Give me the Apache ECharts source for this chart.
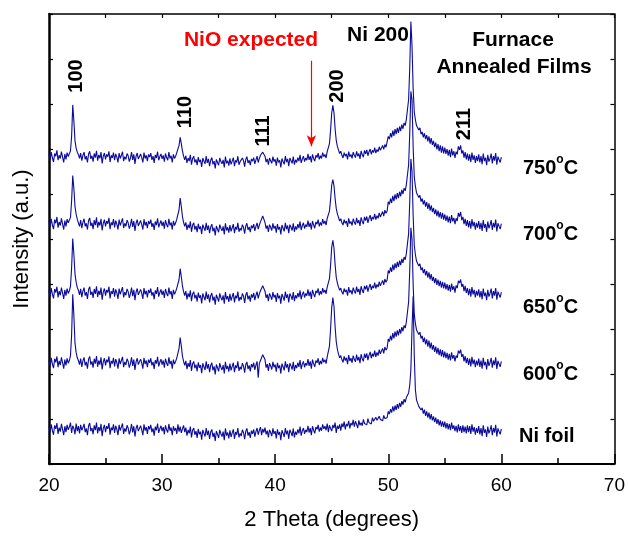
<!DOCTYPE html>
<html>
<head>
<meta charset="utf-8">
<script src="https://cdn.jsdelivr.net/npm/echarts@6/dist/echarts.min.js"></script>
<style>
html,body{margin:0;padding:0;background:#fff;}
#chart{width:628px;height:536px;}
</style>
</head>
<body>
<div id="chart"></div>
<script>
// Scan grid: 2-theta from 20 to 60 degrees, step 0.1 (one row below = 1 degree)
const scanStart = 20;
const scanStep = 0.1;

const seriesNames = ['750°C', '700°C', '650°C', '600°C', 'Ni foil'];

const int750 = [
  688, 676, 693, 680, 671, 690, 684, 697, 675, 686,
  679, 694, 682, 670, 689, 677, 692, 683, 687, 696,
  728, 798, 762, 718, 702, 693, 688, 679, 691, 674,
  686, 693, 677, 684, 670, 689, 695, 678, 685, 672,
  690, 681, 696, 674, 687, 679, 693, 668, 684, 691,
  677, 688, 683, 695, 671, 686, 680, 692, 675, 689,
  682, 670, 691, 679, 686, 694, 673, 683, 677, 690,
  685, 672, 680, 693, 676, 688, 667, 684, 691, 678,
  674, 689, 681, 670, 692, 679, 686, 673, 688, 682,
  691, 676, 684, 669, 687, 680, 694, 675, 683, 689,
  678, 686, 672, 690, 681, 675, 693, 679, 685, 670,
  688, 679, 684, 692, 694, 708, 726, 712, 696, 684,
  676, 685, 669, 680, 673, 687, 665, 679, 684, 670,
  677, 664, 682, 671, 676, 660, 680, 673, 667, 684,
  669, 678, 662, 675, 681, 666, 673, 657, 677, 670,
  664, 680, 672, 667, 676, 659, 683, 668, 674, 663,
  679, 666, 673, 681, 662, 675, 670, 684, 665, 672,
  668, 680, 674, 661, 677, 683, 669, 675, 664, 678,
  673, 681, 667, 676, 684, 670, 679, 686, 682, 693,
  690, 684, 671, 678, 665, 680, 674, 668, 683, 672,
  677, 663, 681, 670, 675, 659, 679, 672, 666, 684,
  671, 678, 662, 680, 674, 668, 683, 665, 676, 670,
  681, 673, 687, 669, 678, 684, 672, 680, 675, 689,
  676, 684, 670, 688, 679, 673, 686, 681, 691, 677,
  685, 679, 692, 683, 688, 680, 694, 697, 712, 742,
  780, 797, 781, 745, 719, 706, 698, 690, 695, 686,
  680, 692, 684, 689, 677, 694, 683, 688, 679, 693,
  686, 681, 695, 684, 690, 678, 696, 687, 682, 697,
  689, 698, 685, 694, 700, 688, 697, 692, 703, 691,
  699, 694, 705, 697, 702, 708, 699, 710, 704, 707,
  728, 722, 735, 726, 741, 729, 744, 733, 747, 736,
  750, 740, 754, 745, 758, 752, 766, 770, 810, 880,
  983, 930, 835, 782, 765, 752, 756, 742, 747, 733,
  738, 726, 735, 722, 731, 717, 728, 712, 724, 709,
  718, 704, 714, 699, 711, 695, 708, 692, 706, 690,
  703, 689, 700, 685, 698, 682, 701, 686, 695, 680,
  694, 688, 706, 698, 708, 690, 697, 681, 693, 677,
  690, 674, 688, 671, 692, 676, 686, 669, 684, 673,
  688, 670, 684, 666, 690, 673, 681, 664, 687, 672,
  679, 690, 668, 684, 674, 691, 665, 683, 676, 670,
  682
];

const int700 = [
  540, 527, 545, 531, 522, 543, 535, 549, 525, 538,
  530, 546, 533, 521, 541, 528, 544, 536, 540, 548,
  585, 641, 612, 572, 555, 544, 536, 528, 542, 524,
  537, 545, 528, 535, 521, 541, 547, 529, 536, 522,
  542, 531, 548, 525, 538, 530, 545, 519, 535, 543,
  528, 540, 534, 547, 522, 537, 531, 544, 526, 541,
  533, 521, 543, 530, 538, 546, 524, 535, 528, 542,
  536, 523, 531, 545, 527, 540, 518, 535, 543, 529,
  525, 541, 532, 521, 544, 530, 538, 524, 540, 533,
  543, 527, 535, 520, 539, 531, 546, 526, 534, 541,
  529, 538, 523, 542, 532, 526, 545, 530, 537, 521,
  540, 530, 536, 544, 548, 565, 591, 572, 550, 537,
  528, 537, 520, 532, 524, 539, 516, 531, 536, 521,
  529, 515, 534, 522, 528, 511, 532, 525, 518, 536,
  520, 530, 513, 527, 533, 517, 525, 508, 529, 522,
  515, 532, 524, 518, 528, 510, 535, 519, 526, 514,
  531, 517, 525, 533, 513, 527, 521, 536, 516, 524,
  519, 532, 526, 512, 529, 535, 520, 527, 515, 530,
  524, 533, 518, 528, 536, 522, 531, 538, 540, 551,
  548, 537, 523, 530, 516, 532, 526, 519, 535, 523,
  529, 514, 533, 521, 527, 510, 531, 524, 517, 536,
  522, 530, 513, 532, 526, 519, 535, 516, 528, 521,
  533, 524, 539, 520, 530, 536, 523, 532, 527, 541,
  527, 536, 521, 540, 531, 524, 538, 533, 543, 528,
  537, 530, 544, 534, 540, 531, 546, 548, 562, 588,
  620, 632, 618, 590, 568, 556, 548, 540, 545, 536,
  531, 543, 535, 540, 527, 546, 534, 539, 530, 545,
  537, 532, 547, 535, 542, 529, 548, 539, 533, 549,
  541, 550, 536, 546, 553, 540, 549, 544, 556, 543,
  552, 546, 558, 549, 555, 561, 551, 564, 557, 562,
  583, 577, 590, 580, 596, 584, 599, 588, 602, 591,
  605, 595, 609, 600, 613, 607, 621, 625, 665, 735,
  828, 810, 705, 638, 617, 603, 606, 592, 597, 583,
  590, 577, 586, 572, 582, 567, 579, 563, 575, 560,
  569, 555, 566, 551, 563, 548, 560, 545, 558, 543,
  555, 540, 552, 537, 550, 535, 553, 539, 547, 533,
  546, 540, 558, 550, 560, 542, 549, 533, 545, 529,
  542, 526, 540, 523, 544, 528, 538, 521, 536, 525,
  540, 522, 536, 518, 542, 525, 533, 516, 539, 524,
  531, 542, 520, 536, 526, 543, 517, 535, 528, 522,
  534
];

const int650 = [
  386, 372, 391, 377, 368, 389, 381, 394, 370, 384,
  375, 392, 380, 367, 387, 374, 390, 379, 385, 395,
  436, 501, 466, 422, 404, 392, 386, 376, 389, 371,
  384, 392, 374, 382, 367, 388, 394, 376, 383, 369,
  389, 378, 395, 371, 385, 376, 392, 365, 382, 390,
  374, 387, 381, 394, 368, 384, 378, 391, 372, 388,
  380, 367, 390, 377, 385, 393, 370, 382, 375, 389,
  383, 369, 378, 392, 373, 387, 364, 382, 390, 376,
  372, 388, 379, 367, 391, 377, 385, 370, 387, 380,
  390, 374, 382, 366, 386, 378, 393, 372, 381, 388,
  376, 385, 369, 389, 379, 373, 392, 377, 384, 367,
  387, 377, 383, 391, 394, 410, 434, 416, 396, 383,
  374, 384, 366, 379, 371, 386, 362, 378, 383, 368,
  376, 361, 381, 369, 375, 357, 379, 371, 364, 383,
  367, 377, 359, 374, 380, 363, 372, 354, 376, 369,
  361, 379, 370, 364, 375, 356, 382, 366, 373, 360,
  378, 363, 372, 380, 359, 374, 368, 383, 362, 371,
  365, 379, 373, 358, 376, 382, 366, 374, 361, 377,
  370, 380, 364, 375, 383, 368, 378, 385, 388, 396,
  393, 384, 369, 377, 362, 379, 373, 365, 382, 370,
  376, 360, 380, 368, 374, 356, 378, 371, 363, 383,
  369, 377, 359, 379, 373, 365, 382, 362, 375, 368,
  380, 371, 386, 366, 377, 383, 370, 379, 374, 388,
  373, 383, 367, 387, 378, 371, 385, 380, 390, 375,
  384, 377, 391, 381, 387, 378, 393, 396, 412, 442,
  482, 497, 480, 443, 415, 402, 393, 386, 391, 382,
  377, 390, 382, 387, 374, 393, 381, 386, 377, 392,
  384, 379, 394, 382, 389, 376, 395, 386, 380, 396,
  388, 397, 383, 393, 400, 387, 396, 391, 403, 390,
  399, 393, 405, 396, 402, 408, 398, 411, 404, 409,
  430, 424, 437, 427, 443, 431, 446, 435, 449, 438,
  452, 442, 456, 447, 460, 454, 468, 472, 512, 582,
  678, 650, 552, 486, 465, 451, 454, 440, 445, 431,
  437, 424, 433, 419, 429, 414, 426, 410, 422, 407,
  416, 402, 413, 398, 410, 395, 407, 392, 405, 390,
  403, 388, 400, 385, 398, 383, 401, 387, 395, 381,
  397, 391, 407, 402, 410, 394, 400, 384, 396, 380,
  391, 375, 389, 372, 393, 377, 387, 370, 385, 374,
  388, 370, 384, 366, 390, 373, 381, 364, 387, 372,
  379, 390, 368, 384, 374, 391, 365, 383, 376, 370,
  382
];

const int600 = [
  231, 217, 236, 222, 213, 234, 226, 239, 215, 229,
  220, 237, 225, 212, 232, 219, 235, 224, 230, 241,
  287, 377, 330, 268, 248, 236, 230, 221, 234, 216,
  229, 237, 219, 227, 212, 233, 239, 221, 228, 214,
  234, 223, 240, 216, 230, 221, 237, 210, 227, 235,
  219, 232, 226, 239, 213, 229, 223, 236, 217, 233,
  225, 212, 235, 222, 230, 238, 215, 227, 220, 234,
  228, 214, 223, 237, 218, 232, 209, 227, 235, 221,
  217, 233, 224, 212, 236, 222, 230, 215, 232, 225,
  235, 219, 227, 211, 231, 223, 238, 217, 226, 233,
  221, 230, 214, 234, 224, 218, 237, 222, 229, 212,
  232, 222, 228, 236, 240, 257, 281, 262, 240, 228,
  219, 229, 211, 224, 216, 231, 207, 223, 228, 213,
  221, 206, 226, 214, 220, 202, 224, 216, 209, 228,
  212, 222, 204, 219, 225, 208, 217, 199, 221, 214,
  206, 224, 215, 209, 220, 201, 227, 211, 218, 205,
  223, 208, 217, 225, 204, 219, 213, 228, 207, 216,
  210, 224, 218, 203, 221, 227, 211, 219, 206, 222,
  215, 225, 209, 220, 228, 192, 223, 230, 234, 243,
  246, 232, 214, 222, 207, 224, 218, 210, 227, 215,
  221, 205, 225, 213, 219, 201, 223, 216, 208, 228,
  214, 222, 204, 224, 218, 210, 227, 207, 220, 213,
  225, 216, 231, 211, 222, 228, 215, 224, 219, 233,
  218, 228, 212, 232, 223, 216, 230, 225, 235, 220,
  229, 222, 236, 226, 232, 223, 238, 242, 262, 300,
  348, 370, 350, 305, 272, 255, 244, 236, 241, 232,
  226, 239, 230, 236, 222, 242, 229, 235, 225, 241,
  232, 227, 243, 230, 238, 224, 244, 234, 228, 245,
  236, 246, 231, 242, 249, 235, 245, 239, 252, 238,
  248, 241, 254, 245, 251, 257, 246, 260, 253, 258,
  278, 272, 285, 275, 291, 279, 294, 283, 297, 286,
  300, 290, 304, 295, 308, 302, 316, 320, 360, 430,
  525, 500, 400, 333, 312, 298, 301, 288, 293, 279,
  285, 271, 281, 266, 277, 261, 274, 257, 270, 254,
  264, 249, 261, 245, 258, 242, 255, 239, 253, 237,
  250, 235, 247, 232, 245, 230, 248, 234, 242, 228,
  241, 236, 252, 246, 254, 238, 244, 228, 240, 224,
  236, 220, 234, 217, 238, 222, 232, 215, 230, 219,
  234, 216, 230, 212, 236, 219, 227, 210, 233, 218,
  225, 236, 214, 230, 220, 237, 211, 229, 222, 216,
  228
];

const intNiFoil = [
  83, 70, 88, 74, 65, 86, 78, 91, 67, 81,
  72, 89, 77, 64, 84, 71, 87, 76, 82, 92,
  69, 85, 79, 66, 90, 73, 84, 68, 87, 75,
  81, 89, 71, 79, 64, 85, 91, 73, 80, 66,
  86, 75, 92, 68, 82, 73, 89, 62, 79, 87,
  71, 84, 78, 91, 65, 81, 75, 88, 69, 85,
  77, 64, 87, 74, 82, 90, 67, 79, 72, 86,
  80, 66, 75, 89, 70, 84, 61, 79, 87, 73,
  69, 85, 76, 64, 88, 74, 82, 67, 84, 77,
  87, 71, 79, 63, 83, 75, 90, 69, 78, 85,
  73, 82, 66, 86, 76, 70, 89, 74, 81, 64,
  84, 74, 80, 67, 88, 72, 83, 69, 78, 86,
  71, 81, 63, 76, 68, 83, 59, 75, 80, 65,
  73, 58, 78, 66, 72, 54, 76, 68, 61, 80,
  64, 74, 56, 71, 77, 60, 69, 51, 73, 66,
  58, 76, 67, 61, 72, 53, 79, 63, 70, 57,
  75, 60, 69, 77, 56, 71, 65, 80, 59, 68,
  62, 76, 70, 55, 73, 79, 63, 71, 58, 74,
  67, 77, 61, 72, 80, 65, 75, 82, 64, 78,
  70, 81, 66, 74, 59, 76, 70, 62, 79, 67,
  73, 57, 77, 65, 71, 53, 75, 68, 60, 80,
  66, 74, 56, 76, 70, 62, 79, 59, 72, 65,
  77, 68, 83, 63, 74, 80, 67, 76, 71, 85,
  70, 80, 64, 84, 75, 68, 82, 77, 87, 72,
  81, 74, 88, 78, 84, 75, 90, 71, 86, 79,
  73, 87, 80, 92, 69, 85, 78, 88, 74, 90,
  82, 94, 77, 89, 84, 96, 79, 91, 86, 98,
  83, 95, 88, 80, 97, 86, 92, 85, 99, 90,
  94, 87, 101, 92, 96, 89, 103, 95, 91, 104,
  97, 93, 106, 99, 102, 96, 108, 101, 105, 103,
  117, 111, 122, 114, 128, 117, 130, 120, 133, 123,
  136, 127, 140, 132, 144, 137, 148, 146, 158, 175,
  210, 300, 373, 240, 165, 142, 139, 128, 131, 120,
  125, 112, 121, 107, 117, 103, 114, 99, 111, 97,
  106, 93, 103, 89, 100, 86, 97, 83, 95, 82,
  94, 79, 91, 77, 89, 75, 92, 78, 86, 73,
  85, 70, 88, 73, 84, 69, 86, 71, 83, 68,
  86, 71, 84, 67, 88, 72, 82, 65, 80, 69,
  84, 66, 80, 62, 86, 69, 77, 60, 83, 68,
  75, 86, 64, 80, 70, 87, 61, 79, 72, 66,
  78
];

const xTickLabels = ['20', '30', '40', '50', '60', '70'];
const peakLabels = ['100', '110', '111', '200', '211'];
const nioArrow = { angle: 43.2, from: 896, to: 706 };

const allSeries = [int750, int700, int650, int600, intNiFoil];
const FONT = "'Liberation Sans', Arial, Helvetica, sans-serif";
const LINE = '#0a0a9c';

function toPairs(arr) {
  return arr.map((v, i) => [+(scanStart + i * scanStep).toFixed(1), v]);
}

const series = allSeries.map((arr, k) => {
  const s = {
    name: seriesNames[k],
    type: 'line',
    data: toPairs(arr),
    showSymbol: false,
    symbol: 'none',
    lineStyle: { color: LINE, width: 1.1 },
    itemStyle: { color: LINE },
    animation: false,
    silent: true,
    z: 2
  };
  if (k === 0) {
    s.markLine = {
      silent: true,
      symbol: ['none', 'arrow'],
      symbolSize: [7, 11],
      label: { show: false },
      lineStyle: { color: '#ff0000', width: 1.2, type: 'solid' },
      data: [[{ coord: [nioArrow.angle, nioArrow.from] }, { coord: [nioArrow.angle, nioArrow.to] }]],
      animation: false
    };
  }
  return s;
});

const chart = echarts.init(document.getElementById('chart'), null, { renderer: 'canvas' });

const bold = { fontFamily: FONT, fontWeight: 'bold', fill: '#000' };

function tempLabel(num, x, y) {
  return {
    type: 'text', left: x, top: y - 13,
    style: {
      text: '{a|' + num + '}{b|o}{a|C}',
      rich: {
        a: { fontFamily: FONT, fontWeight: 'bold', fontSize: 20, fill: '#000', lineHeight: 26, verticalAlign: 'bottom' },
        b: { fontFamily: FONT, fontWeight: 'bold', fontSize: 12, fill: '#000', lineHeight: 26, verticalAlign: 'top', padding: [2, 0, 0, 0] }
      }
    }
  };
}

function rotLabel(text, cx, cy) {
  return {
    type: 'text', x: cx, y: cy, rotation: Math.PI / 2,
    style: Object.assign({ text: text, fontSize: 20, textAlign: 'center', textVerticalAlign: 'middle' }, bold)
  };
}

chart.setOption({
  animation: false,
  backgroundColor: '#fff',
  grid: { left: 49, top: 14, right: 7, bottom: 63, containLabel: false },
  xAxis: [
    {
      type: 'value', min: 20, max: 70, interval: 10, position: 'bottom',
      axisLine: { show: true, onZero: false, lineStyle: { color: '#000', width: 2 } },
      axisTick: { show: true, inside: true, length: 10, lineStyle: { color: '#000', width: 1.5 } },
      minorTick: { show: true, splitNumber: 2, length: 6, lineStyle: { color: '#000', width: 1.5 } },
      splitLine: { show: false },
      axisLabel: { show: true, color: '#000', fontSize: 19, fontFamily: FONT, margin: 12,
        formatter: (v) => xTickLabels[Math.round((v - 20) / 10)] || '' },
      name: '2 Theta (degrees)', nameLocation: 'middle', nameGap: 45,
      nameTextStyle: { color: '#000', fontSize: 22, fontFamily: FONT }
    },
    {
      type: 'value', min: 20, max: 70, interval: 5, position: 'top',
      axisLine: { show: true, onZero: false, lineStyle: { color: '#000', width: 1.5 } },
      axisTick: { show: true, inside: true, length: 4, lineStyle: { color: '#000', width: 1.2 } },
      axisLabel: { show: false }, splitLine: { show: false }
    }
  ],
  yAxis: [
    {
      type: 'value', min: 0, max: 1000, interval: 100, position: 'left',
      axisLine: { show: true, onZero: false, lineStyle: { color: '#000', width: 2.5 } },
      axisTick: { show: true, inside: true, length: 4, lineStyle: { color: '#000', width: 1.2 } },
      axisLabel: { show: false }, splitLine: { show: false },
      name: 'Intensity (a.u.)', nameLocation: 'middle', nameGap: 16,
      nameTextStyle: { color: '#000', fontSize: 22, fontFamily: FONT }
    },
    {
      type: 'value', min: 0, max: 1000, interval: 100, position: 'right',
      axisLine: { show: true, onZero: false, lineStyle: { color: '#000', width: 1.5 } },
      axisTick: { show: true, inside: true, length: 4, lineStyle: { color: '#000', width: 1.2 } },
      axisLabel: { show: false }, splitLine: { show: false }
    }
  ],
  series: series,
  graphic: [
    { type: 'text', x: 251, y: 40, style: Object.assign({}, bold, { text: 'NiO expected', fontSize: 21, fill: '#ff0000', textAlign: 'center', textVerticalAlign: 'middle' }) },
    { type: 'text', x: 378, y: 35, style: Object.assign({}, bold, { text: 'Ni 200', fontSize: 21, textAlign: 'center', textVerticalAlign: 'middle' }) },
    { type: 'text', x: 513, y: 40, style: Object.assign({}, bold, { text: 'Furnace', fontSize: 21, textAlign: 'center', textVerticalAlign: 'middle' }) },
    { type: 'text', x: 514, y: 67, style: Object.assign({}, bold, { text: 'Annealed Films', fontSize: 21, textAlign: 'center', textVerticalAlign: 'middle' }) },
    rotLabel(peakLabels[0], 76, 76),
    rotLabel(peakLabels[1], 185, 112),
    rotLabel(peakLabels[2], 263, 131),
    rotLabel(peakLabels[3], 337, 86),
    rotLabel(peakLabels[4], 464, 124),
    tempLabel('750', 523, 165),
    tempLabel('700', 523, 231),
    tempLabel('650', 523, 304),
    tempLabel('600', 523, 371),
    { type: 'text', left: 519, top: 426, style: Object.assign({}, bold, { text: 'Ni foil', fontSize: 20 }) }
  ]
});
</script>
</body>
</html>
